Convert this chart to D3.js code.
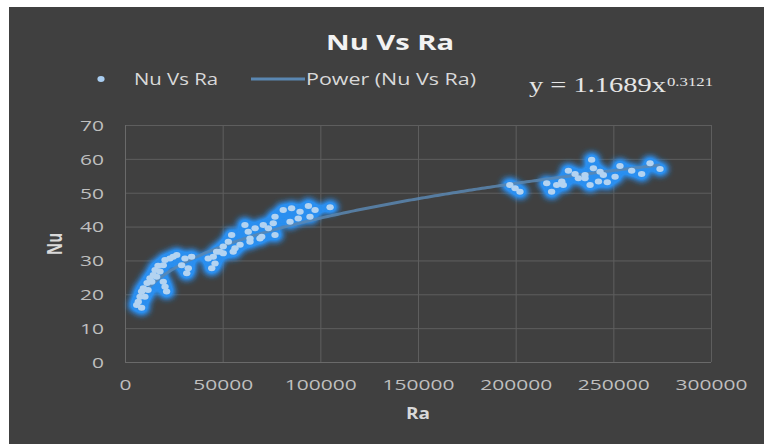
<!DOCTYPE html>
<html>
<head>
<meta charset="utf-8">
<script src="https://cdn.jsdelivr.net/npm/d3@7/dist/d3.min.js"></script>
<style>
  html, body { margin: 0; padding: 0; background: #ffffff; }
  svg { display: block; }
</style>
</head>
<body>
<script>
// ---- data ----
const raValues = [
  6000, 6800, 7700, 8500, 8500, 9400, 10200, 11300, 11800, 12800, 13700, 14500, 15400, 16200, 16900,
  17900, 19600, 19600, 20500, 20500, 21300, 23000, 24700, 26500, 29000, 30700, 31600, 32400, 34100,
  42600, 44400, 45200, 46100, 46900, 48600, 50300, 50300, 52900, 54600, 55400, 56300, 58900, 61400,
  63100, 64000, 64000, 66600, 69100, 70000, 70800, 73400, 75900, 76800, 76800, 81000, 84500, 85300,
  88700, 89600, 93900, 94700, 97300, 105000,
  197000, 199700, 202200, 215900, 218400, 221000, 223600, 224400, 227000, 230400, 232100, 235500,
  235500, 238100, 238900, 239800, 242400, 243200, 244900, 246900, 250900, 253400, 259400, 264500,
  268800, 273900
];
const nuValues = [
  16.8, 17.8, 19.3, 16.0, 20.8, 21.8, 19.3, 23.3, 21.3, 24.7, 23.7, 25.7, 27.2, 25.2, 28.4,
  26.7, 28.6, 23.7, 30.1, 22.2, 20.8, 30.6, 31.1, 31.6, 28.6, 30.6, 26.2, 27.7, 31.1,
  30.6, 27.7, 31.1, 29.1, 32.6, 32.6, 34.1, 32.1, 35.5, 37.5, 32.6, 33.6, 34.6, 40.5,
  38.5, 36.5, 35.5, 39.5, 36.5, 37.0, 40.5, 39.5, 41.0, 37.5, 42.9, 44.9, 41.4, 45.4,
  42.4, 44.4, 46.1, 42.9, 44.9, 45.7,
  52.3, 51.3, 50.3, 52.8, 50.3, 52.3, 53.3, 52.3, 56.5, 55.5, 54.3, 55.2,
  54.3, 52.3, 59.7, 57.2, 53.3, 56.2, 55.2, 53.1, 54.7, 57.9, 56.5, 55.5,
  58.7, 57.0
];
const xTicks = [0, 50000, 100000, 150000, 200000, 250000, 300000];
const yTicks = [0, 10, 20, 30, 40, 50, 60, 70];
const trendA = 1.1689;
const trendB = 0.3121;
const chartTitle = "Nu Vs Ra";
const xTitle = "Ra";
const yTitle = "Nu";
const legendLabels = ["Nu Vs Ra", "Power (Nu Vs Ra)"];

// ---- layout ----
const W = 764, H = 444;
const plot = { left: 125, right: 711, top: 125, bottom: 362 };

const svg = d3.select("body").append("svg").attr("width", W).attr("height", H);

svg.append("rect").attr("x", 0).attr("y", 0).attr("width", W).attr("height", H).attr("fill", "#ffffff");
svg.append("rect").attr("x", 9).attr("y", 7).attr("width", W - 9).attr("height", H - 7).attr("fill", "#404040");

const x = d3.scaleLinear().domain([0, 300000]).range([plot.left, plot.right]);
const y = d3.scaleLinear().domain([0, 70]).range([plot.bottom, plot.top]);

const defs = svg.append("defs");
const f = defs.append("filter").attr("id", "glow").attr("x", "-50%").attr("y", "-50%").attr("width", "200%").attr("height", "200%");
f.append("feGaussianBlur").attr("stdDeviation", 3.2).attr("result", "b");
const ct = f.append("feComponentTransfer").attr("in", "b");
ct.append("feFuncA").attr("type", "linear").attr("slope", 1.5);

const FONT = "'Open Sans', 'Noto Sans', sans-serif";

// gridlines
const grid = svg.append("g");
grid.append("g")
  .attr("transform", `translate(0,${plot.bottom})`)
  .call(d3.axisBottom(x).tickValues(xTicks).tickSize(-(plot.bottom - plot.top)).tickFormat(""))
  .call(g => g.select(".domain").remove())
  .call(g => g.selectAll("line").attr("stroke", "#5e5e5e").attr("stroke-width", 1));
grid.append("g")
  .attr("transform", `translate(${plot.left},0)`)
  .call(d3.axisLeft(y).tickValues(yTicks).tickSize(-(plot.right - plot.left)).tickFormat(""))
  .call(g => g.select(".domain").remove())
  .call(g => g.selectAll("line").attr("stroke", "#5e5e5e").attr("stroke-width", 1));

svg.append("line").attr("x1", plot.left).attr("x2", plot.right).attr("y1", plot.bottom + 0.5).attr("y2", plot.bottom + 0.5)
  .attr("stroke", "#6a6a6a");
svg.append("line").attr("x1", plot.left + 0.5).attr("x2", plot.left + 0.5).attr("y1", plot.top).attr("y2", plot.bottom)
  .attr("stroke", "#6a6a6a");

// tick labels
const xAxis = svg.append("g").attr("transform", `translate(0,${plot.bottom})`)
  .call(d3.axisBottom(x).tickValues(xTicks).tickSize(0).tickPadding(0).tickFormat(d => String(d)));
xAxis.select(".domain").remove();
xAxis.selectAll("text")
  .attr("y", 28).attr("dy", null)
  .attr("fill", "#bfbfbf").attr("font-family", FONT).attr("font-size", 15)
  .attr("textLength", d => String(d).length * 12).attr("lengthAdjust", "spacingAndGlyphs");

const yAxis = svg.append("g").attr("transform", `translate(${plot.left},0)`)
  .call(d3.axisLeft(y).tickValues(yTicks).tickSize(0).tickPadding(0).tickFormat(d => String(d)));
yAxis.select(".domain").remove();
yAxis.selectAll("text")
  .attr("x", -21).attr("dy", "0.36em")
  .attr("fill", "#bfbfbf").attr("font-family", FONT).attr("font-size", 15)
  .attr("textLength", d => String(d).length * 12).attr("lengthAdjust", "spacingAndGlyphs");

// data points
const pts = raValues.map((r, i) => ({ ra: r, nu: nuValues[i] }));

const glowG = svg.append("g").attr("filter", "url(#glow)");
glowG.selectAll("ellipse").data(pts).join("ellipse")
  .attr("cx", d => x(d.ra)).attr("cy", d => y(d.nu))
  .attr("rx", 8).attr("ry", 6.8)
  .attr("fill", "#2b8ff0");

// trendline
const raMin = d3.min(raValues), raMax = d3.max(raValues);
const trendPts = d3.range(0, 201).map(i => {
  const r = raMin + (raMax - raMin) * i / 200;
  return { ra: r, nu: trendA * Math.pow(r, trendB) };
});
svg.append("path").datum(trendPts)
  .attr("fill", "none").attr("stroke", "#5a87b2").attr("stroke-width", 3).attr("stroke-opacity", 0.85)
  .attr("d", d3.line().x(d => x(d.ra)).y(d => y(d.nu)));

svg.append("g")
  .selectAll("ellipse").data(pts).join("ellipse")
  .attr("cx", d => x(d.ra)).attr("cy", d => y(d.nu))
  .attr("rx", 3.7).attr("ry", 3)
  .attr("fill", "#b3d3f1");

// title
svg.append("text").attr("x", 390).attr("y", 50).attr("text-anchor", "middle")
  .attr("font-family", FONT).attr("font-weight", "bold").attr("font-size", 22).attr("fill", "#f2f2f2")
  .attr("textLength", 128).attr("lengthAdjust", "spacingAndGlyphs")
  .text(chartTitle);

// axis titles
svg.append("text").attr("x", 418).attr("y", 419).attr("text-anchor", "middle")
  .attr("font-family", FONT).attr("font-weight", "bold").attr("font-size", 16).attr("fill", "#d9d9d9")
  .attr("textLength", 24).attr("lengthAdjust", "spacingAndGlyphs")
  .text(xTitle);
svg.append("text")
  .attr("transform", "translate(62,244) scale(1.35,1) rotate(-90)")
  .attr("text-anchor", "middle")
  .attr("font-family", FONT).attr("font-weight", "bold").attr("font-size", 16).attr("fill", "#d9d9d9")
  .attr("textLength", 22).attr("lengthAdjust", "spacingAndGlyphs")
  .text(yTitle);

// legend
const lg = svg.append("g");
lg.append("ellipse").attr("cx", 101).attr("cy", 79).attr("rx", 3.6).attr("ry", 3).attr("fill", "#a9cdf0");
lg.append("text").attr("x", 134).attr("y", 85)
  .attr("font-family", FONT).attr("font-size", 17).attr("fill", "#d9d9d9")
  .attr("textLength", 84).attr("lengthAdjust", "spacingAndGlyphs")
  .text(legendLabels[0]);
lg.append("line").attr("x1", 251).attr("x2", 305).attr("y1", 79).attr("y2", 79)
  .attr("stroke", "#5a87b2").attr("stroke-width", 3);
lg.append("text").attr("x", 306).attr("y", 85)
  .attr("font-family", FONT).attr("font-size", 17).attr("fill", "#d9d9d9")
  .attr("textLength", 170).attr("lengthAdjust", "spacingAndGlyphs")
  .text(legendLabels[1]);

// equation
const SERIF = "'Liberation Serif', 'DejaVu Serif', serif";
svg.append("text").attr("x", 529).attr("y", 92)
  .attr("font-family", SERIF).attr("font-size", 21).attr("fill", "#e6e6e6")
  .attr("textLength", 137).attr("lengthAdjust", "spacingAndGlyphs")
  .text(`y = ${trendA}x`);
svg.append("text").attr("x", 667).attr("y", 86)
  .attr("font-family", SERIF).attr("font-size", 13).attr("fill", "#e6e6e6")
  .attr("textLength", 46).attr("lengthAdjust", "spacingAndGlyphs")
  .text(String(trendB));
</script>
</body>
</html>
